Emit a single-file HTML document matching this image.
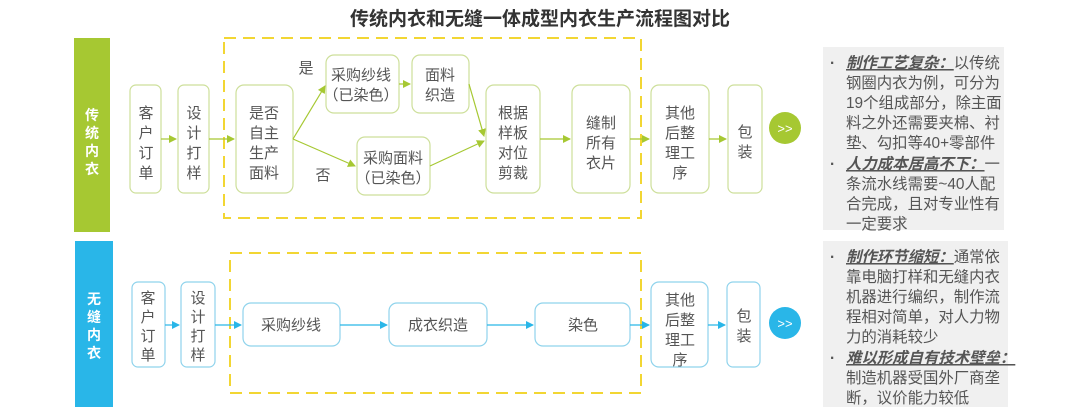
<!DOCTYPE html>
<html><head><meta charset="utf-8"><style>
html,body{margin:0;padding:0;background:#fff;}
body{width:1080px;height:414px;overflow:hidden;font-family:"Liberation Sans","Noto Sans CJK SC",sans-serif;}
svg text{font-family:"Liberation Sans","Noto Sans CJK SC",sans-serif;}
.g{fill:#fff;stroke:#cddf9a;stroke-width:1.2}
.b{fill:#fff;stroke:#8fd3ec;stroke-width:1.2}
.t{font-size:15px;fill:#555;text-anchor:middle}
.n{font-size:15.4px;fill:#555}
</style></head><body>
<svg width="1080" height="414" xmlns="http://www.w3.org/2000/svg">
<defs>
<marker id="ag" markerWidth="8" markerHeight="8" refX="7" refY="4" orient="auto" markerUnits="userSpaceOnUse"><path d="M0,0L8,4L0,8z" fill="#a6c832"/></marker>
<marker id="ab" markerWidth="8" markerHeight="8" refX="7" refY="4" orient="auto" markerUnits="userSpaceOnUse"><path d="M0,0L8,4L0,8z" fill="#29b6e8"/></marker>
</defs>
<text x="540" y="25" font-size="19" font-weight="bold" fill="#333" text-anchor="middle">传统内衣和无缝一体成型内衣生产流程图对比</text>

<!-- top -->
<rect x="74" y="38" width="36" height="194" fill="#a6c832"/>
<text x="92" y="120" font-size="14" font-weight="bold" fill="#fff" text-anchor="middle"><tspan x="92">传</tspan><tspan x="92" dy="18">统</tspan><tspan x="92" dy="18">内</tspan><tspan x="92" dy="18">衣</tspan></text>
<rect x="224" y="38" width="417" height="180" fill="none" stroke="#f2d633" stroke-width="2" stroke-dasharray="12,7"/>
<rect class="g" x="130" y="85" width="31" height="108" rx="6"/>
<text class="t"><tspan x="146" y="118">客</tspan><tspan x="146" dy="20">户</tspan><tspan x="146" dy="20">订</tspan><tspan x="146" dy="20">单</tspan></text>
<rect class="g" x="178" y="85" width="31" height="108" rx="6"/>
<text class="t"><tspan x="194" y="118">设</tspan><tspan x="194" dy="20">计</tspan><tspan x="194" dy="20">打</tspan><tspan x="194" dy="20">样</tspan></text>
<rect class="g" x="236" y="85" width="57" height="108" rx="8"/>
<text class="t"><tspan x="264" y="118">是否</tspan><tspan x="264" dy="20">自主</tspan><tspan x="264" dy="20">生产</tspan><tspan x="264" dy="20">面料</tspan></text>
<rect class="g" x="326" y="55" width="73" height="58" rx="8"/>
<text class="t"><tspan x="361" y="80">采购纱线</tspan><tspan x="361" dy="20">（已染色）</tspan></text>
<rect class="g" x="412" y="55" width="57" height="58" rx="8"/>
<text class="t"><tspan x="440" y="80">面料</tspan><tspan x="440" dy="20">织造</tspan></text>
<rect class="g" x="357" y="137" width="73" height="58" rx="8"/>
<text class="t"><tspan x="393" y="163">采购面料</tspan><tspan x="393" dy="20">（已染色）</tspan></text>
<rect class="g" x="486" y="85" width="54" height="108" rx="8"/>
<text class="t"><tspan x="513" y="118">根据</tspan><tspan x="513" dy="20">样板</tspan><tspan x="513" dy="20">对位</tspan><tspan x="513" dy="20">剪裁</tspan></text>
<rect class="g" x="572" y="85" width="58" height="108" rx="8"/>
<text class="t"><tspan x="601" y="128">缝制</tspan><tspan x="601" dy="20">所有</tspan><tspan x="601" dy="20">衣片</tspan></text>
<rect class="g" x="651" y="85" width="58" height="108" rx="8"/>
<text class="t"><tspan x="680" y="118">其他</tspan><tspan x="680" dy="20">后整</tspan><tspan x="680" dy="20">理工</tspan><tspan x="680" dy="20">序</tspan></text>
<rect class="g" x="728" y="85" width="34" height="108" rx="6"/>
<text class="t"><tspan x="745" y="137">包</tspan><tspan x="745" dy="20">装</tspan></text>
<text x="306" y="73" class="t">是</text>
<text x="323" y="180" class="t">否</text>
<g stroke="#a6c832" stroke-width="1.2" fill="none">
<line x1="161" y1="139" x2="176" y2="139" marker-end="url(#ag)"/>
<line x1="209" y1="139" x2="234" y2="139" marker-end="url(#ag)"/>
<line x1="293" y1="139" x2="325" y2="86" marker-end="url(#ag)"/>
<line x1="293" y1="139" x2="355" y2="166" marker-end="url(#ag)"/>
<line x1="399" y1="84" x2="410" y2="84" marker-end="url(#ag)"/>
<line x1="469" y1="84" x2="484" y2="136" marker-end="url(#ag)"/>
<line x1="430" y1="166" x2="484" y2="141" marker-end="url(#ag)"/>
<line x1="540" y1="139" x2="570" y2="139" marker-end="url(#ag)"/>
<line x1="630" y1="139" x2="649" y2="139" marker-end="url(#ag)"/>
<line x1="709" y1="139" x2="726" y2="139" marker-end="url(#ag)"/>
</g>
<circle cx="785" cy="128" r="16" fill="#a6c832"/>
<text x="785" y="133" font-size="13" fill="#fff" text-anchor="middle">&gt;&gt;</text>
<rect x="823" y="47" width="181" height="183" fill="#f0f0f0"/>
<g class="n">
<text x="830" y="68" font-weight="bold">·</text>
<text x="846" y="68"><tspan font-weight="bold" font-style="italic" text-decoration="underline">制作工艺复杂：</tspan>以传统</text>
<text x="846" y="88">钢圈内衣为例，可分为</text>
<text x="846" y="108">19个组成部分，除主面</text>
<text x="846" y="128">料之外还需要夹棉、衬</text>
<text x="846" y="148">垫、勾扣等40+零部件</text>
<text x="830" y="169" font-weight="bold">·</text>
<text x="846" y="169"><tspan font-weight="bold" font-style="italic" text-decoration="underline">人力成本居高不下：</tspan>一</text>
<text x="846" y="189">条流水线需要~40人配</text>
<text x="846" y="209">合完成，且对专业性有</text>
<text x="846" y="229">一定要求</text>
</g>

<!-- bottom -->
<rect x="75" y="241" width="38" height="166" fill="#29b6e8"/>
<text x="94" y="304" font-size="14" font-weight="bold" fill="#fff" text-anchor="middle"><tspan x="94">无</tspan><tspan x="94" dy="18">缝</tspan><tspan x="94" dy="18">内</tspan><tspan x="94" dy="18">衣</tspan></text>
<rect x="230" y="253" width="411" height="140" fill="none" stroke="#f2d633" stroke-width="2" stroke-dasharray="12,7"/>
<rect class="b" x="132" y="282" width="33" height="85" rx="6"/>
<text class="t"><tspan x="148" y="303">客</tspan><tspan x="148" dy="19">户</tspan><tspan x="148" dy="19">订</tspan><tspan x="148" dy="19">单</tspan></text>
<rect class="b" x="181" y="282" width="34" height="85" rx="6"/>
<text class="t"><tspan x="198" y="303">设</tspan><tspan x="198" dy="19">计</tspan><tspan x="198" dy="19">打</tspan><tspan x="198" dy="19">样</tspan></text>
<rect class="b" x="243" y="303" width="97" height="43" rx="8"/>
<text class="t" x="291" y="330">采购纱线</text>
<rect class="b" x="389" y="303" width="98" height="43" rx="8"/>
<text class="t" x="438" y="330">成衣织造</text>
<rect class="b" x="535" y="303" width="95" height="43" rx="8"/>
<text class="t" x="583" y="330">染色</text>
<rect class="b" x="651" y="282" width="57" height="85" rx="8"/>
<text class="t"><tspan x="680" y="305">其他</tspan><tspan x="680" dy="20">后整</tspan><tspan x="680" dy="20">理工</tspan><tspan x="680" dy="20">序</tspan></text>
<rect class="b" x="727" y="282" width="33" height="85" rx="6"/>
<text class="t"><tspan x="744" y="321">包</tspan><tspan x="744" dy="20">装</tspan></text>
<g stroke="#29b6e8" stroke-width="1.2" fill="none">
<line x1="165" y1="325" x2="179" y2="325" marker-end="url(#ab)"/>
<line x1="215" y1="325" x2="241" y2="325" marker-end="url(#ab)"/>
<line x1="340" y1="325" x2="387" y2="325" marker-end="url(#ab)"/>
<line x1="487" y1="325" x2="533" y2="325" marker-end="url(#ab)"/>
<line x1="630" y1="325" x2="649" y2="325" marker-end="url(#ab)"/>
<line x1="708" y1="325" x2="725" y2="325" marker-end="url(#ab)"/>
</g>
<circle cx="785" cy="323" r="16" fill="#29b6e8"/>
<text x="785" y="328" font-size="13" fill="#fff" text-anchor="middle">&gt;&gt;</text>
<rect x="823" y="241" width="185" height="166" fill="#f0f0f0"/>
<g class="n">
<text x="830" y="262" font-weight="bold">·</text>
<text x="846" y="262"><tspan font-weight="bold" font-style="italic" text-decoration="underline">制作环节缩短：</tspan>通常依</text>
<text x="846" y="282">靠电脑打样和无缝内衣</text>
<text x="846" y="302">机器进行编织，制作流</text>
<text x="846" y="322">程相对简单，对人力物</text>
<text x="846" y="342">力的消耗较少</text>
<text x="830" y="363" font-weight="bold">·</text>
<text x="846" y="363"><tspan font-weight="bold" font-style="italic" text-decoration="underline">难以形成自有技术壁垒：</tspan></text>
<text x="846" y="383">制造机器受国外厂商垄</text>
<text x="846" y="403">断，议价能力较低</text>
</g>
</svg>
</body></html>
